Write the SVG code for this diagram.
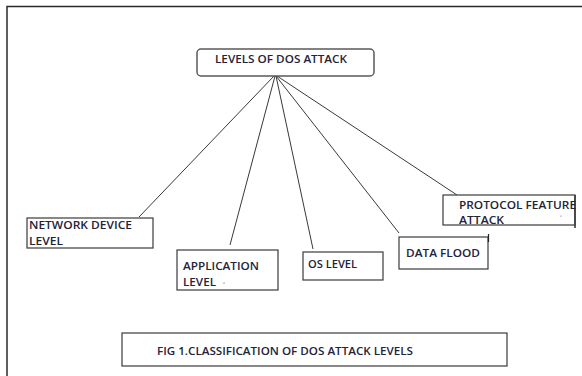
<svg xmlns="http://www.w3.org/2000/svg" width="582" height="376" viewBox="0 0 582 376">
  <style>
    .frame { fill: none; stroke: #2a2a2a; stroke-width: 1.5; }
    .box { fill: #ffffff; stroke: #3a3a3a; stroke-width: 1.2; }
    .root { fill: #ffffff; stroke: #5a5a5a; stroke-width: 1.5; }
    .edge { fill: none; stroke: #222222; stroke-width: 0.9; }
    text { font-family: "Open Sans", "Liberation Sans", sans-serif; font-size: 10.5px; font-weight: 600; fill: #23233a; }
  </style>

  <rect width="582" height="376" fill="#ffffff"/>

  <!-- page frame: top and left edges only -->
  <path class="frame" d="M7,376 V6.5 H582"/>

  <!-- connectors from the root node -->
  <g id="connectors">
    <line class="edge" x1="274" y1="76" x2="139" y2="217"/>
    <line class="edge" x1="275" y1="76" x2="230" y2="245"/>
    <line class="edge" x1="276" y1="76" x2="313" y2="249"/>
    <line class="edge" x1="276" y1="76" x2="399" y2="233"/>
    <line class="edge" x1="277" y1="76" x2="457" y2="195"/>
  </g>

  <g id="root">
    <rect class="root" x="197" y="49" width="177" height="27" rx="4"/>
    <text x="215" y="63" textLength="132" lengthAdjust="spacingAndGlyphs">LEVELS OF DOS ATTACK</text>
  </g>

  <g id="network-device-level">
    <rect class="box" x="27" y="218" width="126" height="30"/>
    <text x="29" y="229" textLength="103" lengthAdjust="spacingAndGlyphs">NETWORK DEVICE</text>
    <text x="29" y="245" textLength="34" lengthAdjust="spacingAndGlyphs">LEVEL</text>
  </g>

  <g id="application-level">
    <rect class="box" x="177" y="250" width="101" height="40"/>
    <text x="183" y="270" textLength="76" lengthAdjust="spacingAndGlyphs">APPLICATION</text>
    <text x="183" y="286" textLength="33" lengthAdjust="spacingAndGlyphs">LEVEL</text>
    <circle cx="224" cy="283" r="0.6" fill="#333"/>
  </g>

  <g id="os-level">
    <rect class="box" x="303" y="252" width="80" height="28"/>
    <text x="308" y="268" textLength="49" lengthAdjust="spacingAndGlyphs">OS LEVEL</text>
  </g>

  <g id="data-flood">
    <rect class="box" x="399" y="237" width="89" height="32"/>
    <text x="406" y="257" textLength="74" lengthAdjust="spacingAndGlyphs">DATA FLOOD</text>
    <line x1="488.5" y1="234" x2="488.5" y2="242" stroke="#222" stroke-width="1.2"/>
  </g>

  <g id="protocol-feature-attack">
    <rect class="box" x="443" y="195" width="132" height="30"/>
    <line x1="575" y1="195" x2="575" y2="228" stroke="#3a3a3a" stroke-width="1.6"/>
    <text x="459" y="209" textLength="117" lengthAdjust="spacingAndGlyphs">PROTOCOL FEATURE</text>
    <text x="459" y="224" textLength="45" lengthAdjust="spacingAndGlyphs">ATTACK</text>
    <circle cx="561" cy="216" r="0.6" fill="#555"/>
  </g>

  <g id="caption">
    <rect class="box" x="122" y="333" width="385" height="33"/>
    <text x="157" y="355" textLength="256" lengthAdjust="spacingAndGlyphs">FIG 1.CLASSIFICATION OF DOS ATTACK LEVELS</text>
  </g>
</svg>
